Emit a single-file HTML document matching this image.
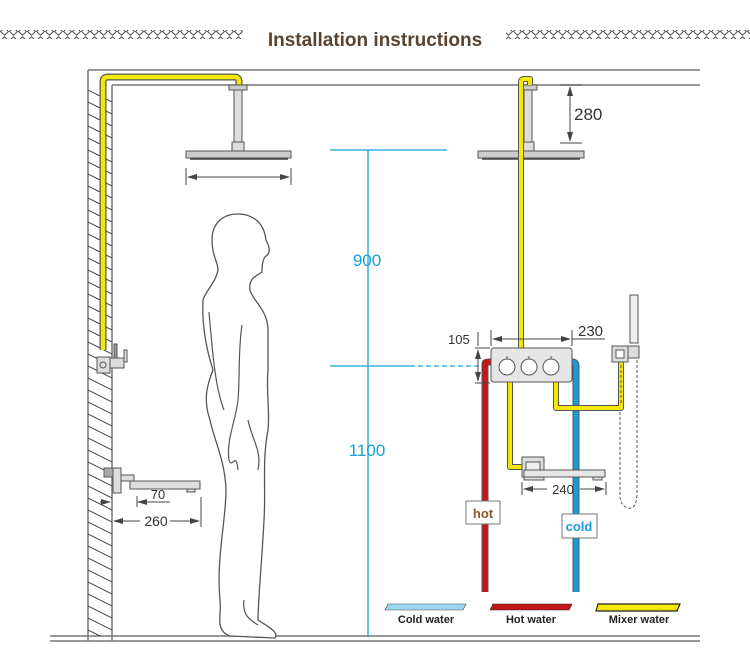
<!DOCTYPE html>
<html><head><meta charset="utf-8"><style>
html,body{margin:0;padding:0;background:#fff;}
svg{display:block;font-family:"Liberation Sans",sans-serif;}
</style></head><body>
<svg width="750" height="651" viewBox="0 0 750 651" xmlns="http://www.w3.org/2000/svg">
<defs>
<pattern id="d" width="9" height="9" patternUnits="userSpaceOnUse">
<path d="M0.5 4.5 L4.5 0.8 L8.5 4.5 L4.5 8.2 Z" fill="none" stroke="#444" stroke-width="0.9"/></pattern>
<marker id="a" markerWidth="10" markerHeight="8" refX="9" refY="4" orient="auto-start-reverse" markerUnits="userSpaceOnUse"><path d="M0 1 L10 4 L0 7 Z" fill="#444"/></marker>
</defs>
<!-- title -->
<rect x="0" y="30" width="243" height="9" fill="url(#d)"/>
<rect x="506" y="30" width="244" height="9" fill="url(#d)"/>
<text x="375" y="46" text-anchor="middle" font-size="19" font-weight="bold" fill="#5a4330">Installation instructions</text>
<!-- ceiling / wall -->
<g stroke="#777" stroke-width="1.5" fill="none">
<line x1="88" y1="70" x2="700" y2="70"/>
<line x1="112" y1="85" x2="700" y2="85"/>
<line x1="88" y1="70" x2="88" y2="641"/>
<line x1="112" y1="85" x2="112" y2="641"/>
<line x1="50" y1="636" x2="700" y2="636"/>
<line x1="50" y1="641" x2="700" y2="641"/>
</g>
<clipPath id="wc"><rect x="88" y="90" width="24" height="546"/></clipPath>
<g clip-path="url(#wc)" stroke="#444" stroke-width="1">
<path d="M88 90 l24 12 M88 102 l24 12 M88 114 l24 12 M88 126 l24 12 M88 138 l24 12 M88 150 l24 12 M88 162 l24 12 M88 174 l24 12 M88 186 l24 12 M88 198 l24 12 M88 210 l24 12 M88 222 l24 12 M88 234 l24 12 M88 246 l24 12 M88 258 l24 12 M88 270 l24 12 M88 282 l24 12 M88 294 l24 12 M88 306 l24 12 M88 318 l24 12 M88 330 l24 12 M88 342 l24 12 M88 354 l24 12 M88 366 l24 12 M88 378 l24 12 M88 390 l24 12 M88 402 l24 12 M88 414 l24 12 M88 426 l24 12 M88 438 l24 12 M88 450 l24 12 M88 462 l24 12 M88 474 l24 12 M88 486 l24 12 M88 498 l24 12 M88 510 l24 12 M88 522 l24 12 M88 534 l24 12 M88 546 l24 12 M88 558 l24 12 M88 570 l24 12 M88 582 l24 12 M88 594 l24 12 M88 606 l24 12 M88 618 l24 12 M88 630 l24 12"/>
</g>
<!-- left yellow pipe -->
<path d="M103 350 L103 82 Q103 77 108 77 L235 77 Q239 77 239 82 L239 86" fill="none" stroke="#555" stroke-width="7"/>
<path d="M103 350 L103 82 Q103 77 108 77 L235 77 Q239 77 239 82 L239 86" fill="none" stroke="#f5e800" stroke-width="4.5"/>
<!-- left shower arm/head -->
<rect x="229" y="85" width="18" height="5" fill="#ccc" stroke="#555"/>
<rect x="234" y="90" width="8" height="52" fill="#ddd" stroke="#555"/>
<rect x="232" y="142" width="12" height="10" fill="#ddd" stroke="#555"/>
<rect x="186" y="151" width="105" height="7" fill="#ccc" stroke="#555"/>
<line x1="190" y1="159" x2="288" y2="159" stroke="#444" stroke-width="1.5"/>
<line x1="186" y1="168" x2="186" y2="185" stroke="#444"/>
<line x1="291" y1="168" x2="291" y2="185" stroke="#444"/>
<line x1="188" y1="177" x2="289" y2="177" stroke="#444" marker-start="url(#a)" marker-end="url(#a)"/>
<!-- left diverter -->
<g stroke="#555" fill="#ddd">
<rect x="97" y="357" width="13" height="16"/><circle cx="103" cy="365" r="3" fill="none"/>
<rect x="110" y="358" width="14" height="10"/><rect x="124" y="350" width="3" height="12"/>
<rect x="114" y="344" width="3" height="14" fill="#999"/>
<rect x="104" y="468" width="9" height="9" fill="#aaa"/>
<rect x="113" y="468" width="8" height="25"/>
<rect x="121" y="475" width="13" height="6"/>
<rect x="130" y="481" width="70" height="8"/>
<rect x="187" y="489" width="8" height="3"/>
</g>
<g stroke="#444" fill="none">
<line x1="137" y1="496" x2="137" y2="507"/><line x1="201" y1="497" x2="201" y2="527"/>
<line x1="100" y1="502" x2="110" y2="502" marker-end="url(#a)"/>
<line x1="148" y1="502" x2="138" y2="502" marker-end="url(#a)"/><line x1="148" y1="502" x2="170" y2="502"/>
<line x1="114" y1="521" x2="140" y2="521" marker-start="url(#a)"/>
<line x1="170" y1="521" x2="199" y2="521" marker-end="url(#a)"/>
</g>
<text x="158" y="499" font-size="13" text-anchor="middle" fill="#333">70</text>
<text x="156" y="526" font-size="14" text-anchor="middle" fill="#333">260</text>
<!-- person -->
<path d="M238 214 C222 214 212 224 212 240 C212 256 218 262 218 270 C216 282 205 292 203 300 C202 320 205 345 213 370 C207 385 203 400 210 420 C214 440 225 460 226 490 C226 520 216 560 220 600 C222 615 214 630 230 636 L275 638 C280 632 265 625 258 620 C258 600 262 560 264 520 C266 490 262 460 268 430 C270 410 266 390 268 370 C268 350 268 335 268 330 C268 310 252 300 250 290 C248 278 258 275 262 272 C262 264 263 258 266 256 C272 252 268 244 266 240 C264 222 252 214 238 214 Z" fill="#fff" stroke="#555" stroke-width="1.3"/>
<path d="M209 312 C213 360 216 390 224 410 M242 325 C238 350 240 380 238 400 C236 420 226 440 229 460 C232 470 236 450 238 470 M248 420 C252 440 262 450 258 470 M244 600 C242 615 250 620 258 625" fill="none" stroke="#555" stroke-width="1.2"/>
<!-- blue dims -->
<g stroke="#1aa0d8" stroke-width="1.3" fill="none">
<line x1="330" y1="150" x2="447" y2="150"/>
<line x1="368" y1="150" x2="368" y2="637"/>
<line x1="330" y1="366" x2="410" y2="366"/>
<line x1="410" y1="366" x2="478" y2="366" stroke-dasharray="5 3"/>
</g>
<text x="367" y="266" font-size="17" text-anchor="middle" fill="#1aa0d8">900</text>
<text x="367" y="456" font-size="17" text-anchor="middle" fill="#1aa0d8">1100</text>
<!-- right shower -->
<g stroke="#555" fill="#ddd">
<rect x="519" y="85" width="18" height="5" fill="#ccc"/>
<rect x="524" y="90" width="8" height="52"/>
<rect x="522" y="142" width="12" height="10"/>
<rect x="478" y="151" width="106" height="7" fill="#ccc"/>
</g>
<line x1="482" y1="159" x2="580" y2="159" stroke="#444" stroke-width="1.5"/>
<g stroke="#444"><line x1="560" y1="85" x2="582" y2="85"/><line x1="560" y1="143" x2="582" y2="143"/>
<line x1="570" y1="87" x2="570" y2="141" marker-start="url(#a)" marker-end="url(#a)"/></g>
<text x="574" y="120" font-size="17" fill="#333">280</text>
<!-- pipes -->
<g fill="none" stroke-linejoin="round">
<path d="M485 592 L485 364 Q485 362 489 362 L492 362" stroke="#555" stroke-width="7"/>
<path d="M485 592 L485 364 Q485 362 489 362 L492 362" stroke="#c4161c" stroke-width="5"/>
<path d="M576 592 L576 366 Q576 362 572 362" stroke="#555" stroke-width="7"/>
<path d="M576 592 L576 366 Q576 362 572 362" stroke="#1a9ad8" stroke-width="5"/>
<path d="M521 82 Q521 79 524 79 L530 79 L530 85 M521 82 L521 348" stroke="#555" stroke-width="6"/>
<path d="M521 82 Q521 79 524 79 L530 79 L530 85 M521 82 L521 348" stroke="#f5e800" stroke-width="4"/>
<path d="M510 382 L510 467 L524 467" stroke="#555" stroke-width="6"/>
<path d="M510 382 L510 467 L524 467" stroke="#f5e800" stroke-width="4"/>
<path d="M556 382 L556 408 L621 408 L621 362" stroke="#555" stroke-width="6"/>
<path d="M556 382 L556 408 L621 408 L621 362" stroke="#f5e800" stroke-width="4"/>
</g>
<line x1="621" y1="365" x2="621" y2="404" stroke="#555" stroke-dasharray="3 2"/>
<!-- valve -->
<rect x="491" y="348" width="81" height="34" rx="3" fill="#e6e6e6" stroke="#555"/>
<g fill="#fff" stroke="#555"><circle cx="507" cy="367" r="8"/><circle cx="529" cy="367" r="8"/><circle cx="551" cy="367" r="8"/></g>
<g stroke="#555"><line x1="507" y1="356" x2="507" y2="359"/><line x1="529" y1="356" x2="529" y2="359"/><line x1="551" y1="356" x2="551" y2="359"/></g>
<!-- dims 105/230 -->
<g stroke="#444" fill="none">
<line x1="491" y1="330" x2="491" y2="346"/><line x1="572" y1="330" x2="572" y2="346"/>
<line x1="493" y1="339" x2="570" y2="339" marker-start="url(#a)" marker-end="url(#a)"/>
<line x1="572" y1="339" x2="605" y2="339"/>
<line x1="478" y1="332" x2="478" y2="346"/>
<line x1="475" y1="348" x2="490" y2="348"/><line x1="475" y1="383" x2="490" y2="383"/>
<line x1="478" y1="350" x2="478" y2="381" marker-start="url(#a)" marker-end="url(#a)"/>
</g>
<text x="448" y="344" font-size="13" fill="#333">105</text>
<text x="578" y="336" font-size="15" fill="#333">230</text>
<!-- right spout -->
<g stroke="#555" fill="#ddd">
<rect x="522" y="457" width="22" height="20"/>
<rect x="526" y="462" width="14" height="8" fill="#eee"/>
<rect x="524" y="470" width="81" height="7" fill="#e6e6e6"/>
<rect x="593" y="477" width="9" height="3"/>
<rect x="524" y="477" width="20" height="3"/>
</g>
<g stroke="#444" fill="none">
<line x1="522" y1="482" x2="522" y2="495"/><line x1="606" y1="482" x2="606" y2="495"/>
<line x1="524" y1="489" x2="547" y2="489" marker-start="url(#a)"/>
<line x1="580" y1="489" x2="604" y2="489" marker-end="url(#a)"/>
</g>
<text x="563" y="494" font-size="13" text-anchor="middle" fill="#333">240</text>
<!-- handheld -->
<g stroke="#555" fill="#ddd">
<rect x="630" y="295" width="8" height="48" fill="#eee"/>
<rect x="612" y="346" width="16" height="16"/><rect x="616" y="350" width="8" height="8" fill="#fff"/>
<rect x="628" y="346" width="11" height="12"/>
</g>
<path d="M637 360 L637 495 Q636 510 628 508 Q620 506 620 495 L620 410" fill="none" stroke="#555" stroke-dasharray="3 2"/>
<!-- labels -->
<rect x="466" y="501" width="34" height="23" fill="#fff" stroke="#777"/>
<text x="483" y="518" font-size="13" font-weight="bold" text-anchor="middle" fill="#8a5a2a">hot</text>
<rect x="562" y="514" width="35" height="24" fill="#fff" stroke="#777"/>
<text x="579" y="531" font-size="13" font-weight="bold" text-anchor="middle" fill="#1a9ad8">cold</text>
<!-- legend -->
<path d="M388 604 L466 604 L463 610 L385 610 Z" fill="#9fd7f0" stroke="#444" stroke-width="0.6"/>
<path d="M493 604 L572 604 L569 610 L490 610 Z" fill="#c4161c" stroke="#222" stroke-width="0.6"/>
<path d="M598 604 L680 604 L677 611 L596 611 Z" fill="#f5e800" stroke="#222" stroke-width="1.2"/>
<g font-size="11" font-weight="bold" fill="#222" text-anchor="middle">
<text x="426" y="623">Cold water</text><text x="531" y="623">Hot water</text><text x="639" y="623">Mixer water</text></g>
</svg>
</body></html>
